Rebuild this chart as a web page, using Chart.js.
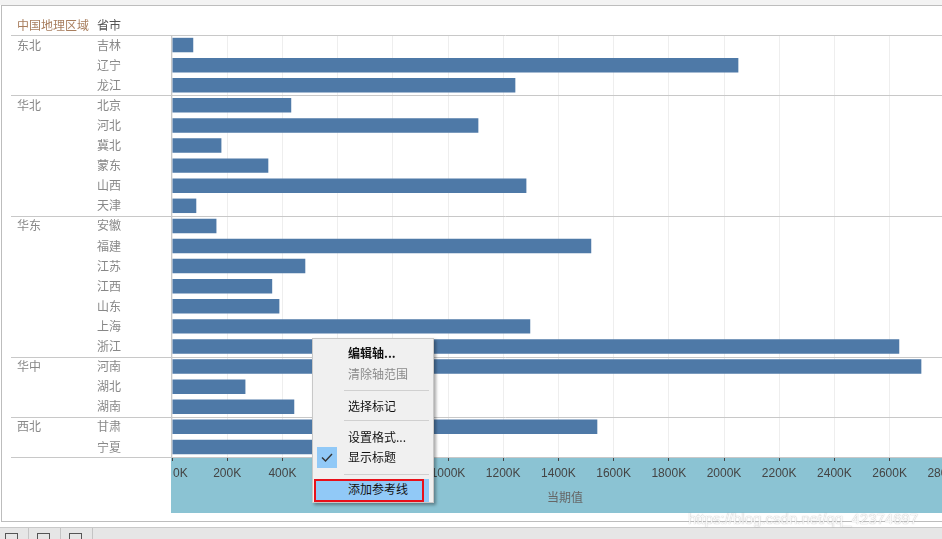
<!DOCTYPE html>
<html>
<head>
<meta charset="utf-8">
<script src="https://cdn.jsdelivr.net/npm/chart.js@4"></script>
<style>
  html, body { margin:0; padding:0; width:942px; height:539px; overflow:hidden; background:#fff; }
  #topstrip { position:absolute; left:0; top:0; width:942px; height:5px; background:#f3f3f3; }
  #frame { position:absolute; left:1px; top:5px; width:950px; height:515px; border:1px solid #bdbdbd; border-right:none; box-sizing:content-box; }
  #wrap { position:absolute; left:0; top:0; width:1000px; height:539px; }
  #toolbar { position:absolute; left:0; top:527px; width:942px; height:12px; background:#e6e6e6; border-top:1px solid #c9c9c9; }
  .tsep { position:absolute; top:0; width:1px; height:12px; background:#c4c4c4; }
  .ticon { position:absolute; top:5px; width:11px; height:9px; border:1px solid #555; border-bottom:none; }
  #menu { position:absolute; left:312px; top:338px; width:120px; height:163px; background:#f0f0f0; border:1px solid #c8c8c8; box-shadow:2px 2px 3px rgba(0,0,0,0.35); font-family:"Noto Sans CJK SC", sans-serif; font-size:12px; color:#111; }
  .mi { position:absolute; left:35px; line-height:16px; white-space:nowrap; }
  .msep { position:absolute; left:31px; width:85px; height:1px; background:#d0d0d0; }
  #check { position:absolute; left:4px; top:108px; width:20px; height:21px; background:#91c9f7; }
  #hl { position:absolute; left:1px; top:140px; width:115px; height:23px; background:#91c9f7; }
  #red { position:absolute; left:1px; top:140px; width:106px; height:19px; border:2px solid #e8101a; }
  #wm { position:absolute; left:688px; top:510px; font-family:"Liberation Sans", Arial, sans-serif; font-size:15px; color:rgba(255,255,255,0.92); text-shadow:0 0 1px rgba(120,120,120,0.7); white-space:nowrap; }
</style>
</head>
<body>
<div id="topstrip"></div>
<div id="frame"></div>
<div id="wrap"><canvas id="c" width="1000" height="539"></canvas></div>
<div id="toolbar">
  <div class="ticon" style="left:5px"></div>
  <div class="tsep" style="left:28px"></div>
  <div class="ticon" style="left:37px"></div>
  <div class="tsep" style="left:60px"></div>
  <div class="ticon" style="left:69px"></div>
  <div class="tsep" style="left:92px"></div>
</div>
<div id="wm">https://blog.csdn.net/qq_42374697</div>
<div id="menu">
  <div class="mi" style="top:6px;font-weight:bold;">编辑轴...</div>
  <div class="mi" style="top:27px;color:#8a8a8a;">清除轴范围</div>
  <div class="msep" style="top:51px"></div>
  <div class="mi" style="top:59px;">选择标记</div>
  <div class="msep" style="top:81px"></div>
  <div class="mi" style="top:90px;">设置格式...</div>
  <div id="check"><svg width="20" height="21" viewBox="0 0 20 21"><path d="M5 10.5 L8.5 14 L15 7" fill="none" stroke="#333" stroke-width="1.4"/></svg></div>
  <div class="mi" style="top:110px;">显示标题</div>
  <div class="msep" style="top:135px"></div>
  <div id="hl"></div>
  <div id="red"></div>
  <div class="mi" style="top:142px;">添加参考线</div>
</div>
<script>
const regions = ['东北','华北','华东','华中','西北'];
const regionSizes = [3, 6, 7, 3, 2];
const provinces = ['吉林','辽宁','龙江','北京','河北','冀北','蒙东','山西','天津','安徽','福建','江苏','江西','山东','上海','浙江','河南','湖北','湖南','甘肃','宁夏'];
const values = [77, 2052, 1244, 432, 1110, 179, 349, 1284, 88, 161, 1519, 483, 363, 389, 1298, 2635, 2715, 266, 443, 1541, 620];
const axisMax = 3000;
const tickStep = 200;
const headerLabels = ['中国地理区域', '省市'];
const axisTitle = '当期值';

const CJK = '"Noto Sans CJK SC", sans-serif';

const decor = {
  id: 'decor',
  beforeDraw(chart) {
    const ctx = chart.ctx, a = chart.chartArea;
    ctx.save();
    ctx.fillStyle = '#8bc3d3';
    ctx.fillRect(a.left - 1, a.bottom + 1, chart.width - a.left + 1, 55);
    ctx.restore();
  },
  afterDraw(chart) {
    const ctx = chart.ctx, a = chart.chartArea;
    const ys = chart.scales.y, xs = chart.scales.x;
    ctx.save();
    ctx.strokeStyle = '#c8c8c8';
    ctx.lineWidth = 1;
    const hline = (y) => { ctx.beginPath(); ctx.moveTo(11, y); ctx.lineTo(chart.width, y); ctx.stroke(); };
    hline(Math.round(a.top) + 0.5);
    let idx = 0;
    for (let g = 0; g < regionSizes.length; g++) {
      idx += regionSizes[g];
      if (idx < provinces.length) {
        const y = (ys.getPixelForValue(idx - 1) + ys.getPixelForValue(idx)) / 2;
        hline(Math.round(y) + 0.5);
      }
    }
    hline(Math.round(a.bottom) + 0.5);
    ctx.beginPath();
    ctx.moveTo(Math.round(a.left) - 0.5, a.top);
    ctx.lineTo(Math.round(a.left) - 0.5, a.bottom);
    ctx.stroke();

    ctx.textBaseline = 'middle';
    ctx.textAlign = 'left';
    ctx.font = '12px ' + CJK;
    ctx.fillStyle = '#a87e5e';
    ctx.fillText(headerLabels[0], 17, a.top - 10);
    ctx.fillStyle = '#555';
    ctx.fillText(headerLabels[1], 97, a.top - 10);

    ctx.fillStyle = '#888';
    provinces.forEach((p, i) => {
      ctx.fillText(p, 97, ys.getPixelForValue(i));
    });
    idx = 0;
    regions.forEach((r, g) => {
      ctx.fillText(r, 17, ys.getPixelForValue(idx));
      idx += regionSizes[g];
    });

    ctx.font = '12px "Liberation Sans", Arial, sans-serif';
    ctx.fillStyle = '#444';
    xs.ticks.forEach((t, i) => {
      const x = xs.getPixelForValue(t.value);
      ctx.textAlign = i === 0 ? 'left' : 'center';
      ctx.fillText(t.value + 'K', i === 0 ? x + 1 : x, a.bottom + 17);
    });
    ctx.font = '12px ' + CJK;
    ctx.fillStyle = '#666';
    ctx.textAlign = 'center';
    ctx.fillText(axisTitle, 565, a.bottom + 40);
    ctx.restore();
  }
};

new Chart(document.getElementById('c'), {
  type: 'bar',
  data: {
    labels: provinces,
    datasets: [{
      data: values,
      backgroundColor: '#4e79a7',
      borderWidth: 0,
      barPercentage: 0.72,
      categoryPercentage: 1.0
    }]
  },
  options: {
    indexAxis: 'y',
    responsive: false,
    animation: false,
    events: [],
    layout: { padding: { left: 172, top: 35, right: 0, bottom: 26 } },
    plugins: { legend: { display: false }, tooltip: { enabled: false } },
    scales: {
      y: { display: false },
      x: {
        min: 0, max: axisMax,
        border: { display: false },
        grid: { color: '#eeeeee', drawTicks: true, tickLength: 4, tickColor: '#444', tickWidth: 1 },
        ticks: { display: false, stepSize: tickStep },
        afterFit(scale) { scale.height = 56; }
      }
    }
  },
  plugins: [decor]
});
</script>
</body>
</html>
